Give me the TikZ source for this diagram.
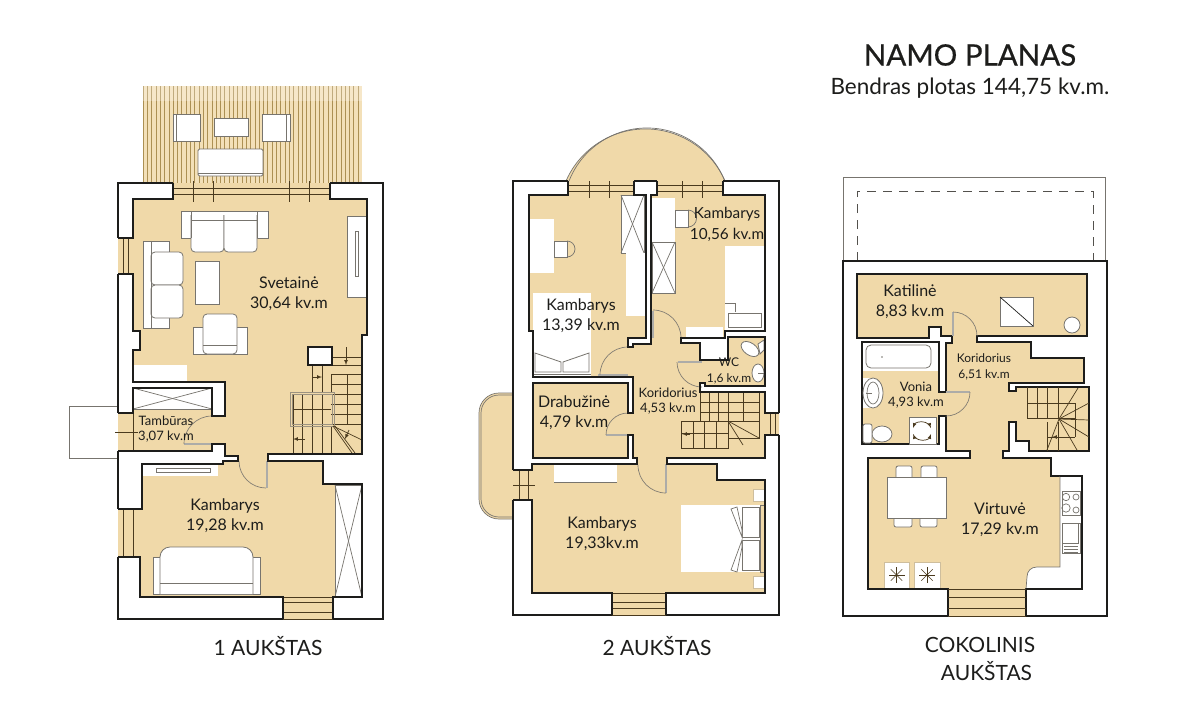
\documentclass[tikz,border=0pt]{standalone}
\usepackage{fontspec}
\setmainfont{Lato}
\newfontfamily\titlefont[FakeBold=0.6]{Lato}
\definecolor{planbeige}{HTML}{F0D9A9}
\definecolor{deckbeige}{HTML}{F3E0B8}
\definecolor{wallblack}{HTML}{1D1D1B}
\definecolor{stairbrown}{HTML}{4A3A1E}
\definecolor{deckbrown}{HTML}{AC9053}
\definecolor{furngray}{HTML}{77746E}
\tikzset{
    wall/.style={draw=wallblack, line width=1.6pt, line join=miter},
    room/.style={fill=planbeige},
    furn/.style={draw=furngray, fill=white, line width=0.8pt},
    flat/.style={fill=white, draw=planbeige!70!gray, line width=0.5pt},
    thin/.style={draw=furngray, line width=0.7pt},
    stairline/.style={draw=stairbrown, line width=0.7pt},
    pane/.style={draw=stairbrown, line width=0.8pt},
    doorarc/.style={draw=furngray!90!planbeige, line width=0.7pt},
    doorleaf/.style={draw=furngray!60!white, line width=1.6pt},
    roomlabel/.style={text=wallblack, align=center, yshift=-1.5pt, font=\fontsize{16}{20.5}\selectfont},
    midlabel/.style={text=wallblack, align=center, font=\fontsize{13}{15.5}\selectfont},
    smalllabel/.style={text=wallblack, align=center, font=\fontsize{12}{15.5}\selectfont},
    floorlabel/.style={text=wallblack, align=center, font=\fontsize{21}{28}\selectfont},
}
\newcommand{\crossbox}[2]{\draw[furn] (#1) rectangle (#2); \draw[thin] (#1) -- (#2); \draw[thin] (#1 -| #2) -- (#1 |- #2);}
\begin{document}
\begin{tikzpicture}[x=1pt, y=-1pt]
    \useasboundingbox (0,0) rectangle (1200,713);
    \fill[white] (0,0) rectangle (1200,713);

    % 1 AUKSTAS
    \fill[deckbeige] (143,86) rectangle (362,183);
    \foreach \x in {143,147.3,...,362}
        \draw[draw=deckbrown, line width=0.5pt] (\x,86) -- (\x,183);
    \fill[white, opacity=0.25] (143,86) rectangle (362,101);
    \draw[furn] (173,114) rectangle (200,141);
    \draw[thin] (176.5,114) -- (176.5,141);
    \draw[furn] (214,118) rectangle (248,136);
    \draw[furn] (262,114) rectangle (290,141);
    \draw[thin] (286.5,114) -- (286.5,141);
    \draw[furn, rounded corners=1.5pt] (198,149) rectangle (263,176);
    \draw[thin] (198,173) -- (263,173);
    \draw[thin] (69,406) rectangle (118,458);
    \fill[room] (173,183) -- (173,199) -- (133,199) -- (133,238) -- (118,238) -- (118,274) -- (133,274) -- (133,331) -- (140,331) -- (140,350) -- (133,350) -- (133,382) -- (225,382) -- (225,416) -- (212,416) -- (212,388) -- (133,388) -- (133,413) -- (118,413) -- (118,451) -- (212,451) -- (212,444) -- (225,444) -- (225,456) -- (238,456) -- (238,461) -- (223,461) -- (223,464) -- (142,464) -- (142,509) -- (118,509) -- (118,557) -- (140,557) -- (140,597) -- (283,597) -- (283,619) -- (333,619) -- (333,597) -- (362,597) -- (362,484) -- (323,484) -- (323,461) -- (268,461) -- (268,454) -- (362,454) -- (362,335) -- (367,335) -- (367,199) -- (330,199) -- (330,183) -- cycle;
    % windows
    \draw[pane] (173,188) -- (330,188);
    \draw[pane] (173,194) -- (330,194);
    \foreach \x in {193,213,289,309}
        \draw[pane] (\x,181) -- (\x,202);
    \draw[pane] (123,238) -- (123,274);
    \draw[pane] (128,238) -- (128,274);
    \draw[pane] (123.5,509) -- (123.5,557);
    \draw[pane] (133,509) -- (133,557);
    \foreach \y in {597,602,612,619}
        \draw[pane] (283,\y) -- (333,\y);
    \draw[pane] (115,432) -- (138,432);
    \draw[pane] (133,413) -- (133,451);
    % living room furniture
    \draw[furn] (181,211) rectangle (268,238);
    \draw[furn, rounded corners=4pt] (191,215) -- (191,252) -- (224,252) -- (224,215);
    \draw[furn, rounded corners=4pt] (224,215) -- (224,252) -- (257,252) -- (257,215);
    \draw[thin] (191,211) -- (191,238);
    \draw[thin] (257,211) -- (257,238);
    \draw[thin] (191,220) -- (257,220);
    \draw[furn] (143,241) rectangle (169,328);
    \draw[furn, rounded corners=4pt] (151,252) -- (183,252) -- (183,285) -- (151,285) -- cycle;
    \draw[furn, rounded corners=4pt] (151,285) -- (183,285) -- (183,318) -- (151,318) -- cycle;
    \draw[thin] (151,241) -- (151,328);
    \draw[furn] (195,261) rectangle (219,304);
    \draw[furn] (193,327) rectangle (247,354);
    \draw[furn, rounded corners=4pt] (203,354) -- (203,314) -- (237,314) -- (237,354) -- cycle;
    \draw[thin] (203,345) -- (237,345);
    \draw[furn] (347,216) rectangle (367,297);
    \draw[thin] (355,231) rectangle (358,276);
    \fill[white] (133,365) rectangle (187,382);
    \crossbox{133,388}{212,409}
    % stairs
    \draw[stairline] (312,365) -- (312,392);
    \draw[stairline] (322,365) -- (322,392);
    \draw[stairline] (332,357) -- (362,357);
    \draw[stairline] (332,365) -- (362,365);
    \draw[stairline] (346,347) -- (346,357);
    \foreach \y in {374,384,394,404,414,424}
        \draw[stairline] (331,\y) -- (362,\y);
    \draw[stairline] (347,374) -- (347,424);
    \draw[stairline] (331,374) -- (331,392);
    \foreach \x in {302,312,322}
        \draw[stairline] (\x,395) -- (\x,453);
    \draw[stairline] (293,395) -- (293,453);
    \draw[stairline] (331,426) -- (331,453);
    \draw[stairline] (293,409) -- (331,409);
    \draw[thin, draw=furngray!70!planbeige] (290,392) rectangle (334,426);
    \draw[thin, draw=furngray!70!planbeige] (292,394) rectangle (332,424);
    \draw[stairline] (333,426) -- (362,440);
    \draw[stairline] (333,426) -- (352,453);
    \draw[stairline] (335,426) -- (355,453);
    \draw[furn, draw=wallblack, line width=1.4pt] (308,347) rectangle (332,365);
    \draw[stairline, -latex] (346,358) -- (346,365);
    \draw[stairline, -latex] (312,377) -- (322,377);
    \draw[stairline, -latex] (305,439) -- (293,439);
    \draw[stairline, -latex] (349,430) -- (345,439);
    % doors and bedroom
    \draw[doorleaf] (184,444) -- (212,444);
    \draw[doorarc] (212,416) arc[start angle=270, end angle=180, radius=28];
    \draw[doorleaf] (267,461) -- (267,488);
    \draw[doorarc] (239,461) arc[start angle=180, end angle=90, radius=27];
    \fill[white] (142,464) rectangle (218,476);
    \draw[furn] (156,468) rectangle (210,472);
    \crossbox{335,485}{362,597}
    \draw[furn] (153,557) rectangle (260,594);
    \draw[furn, rounded corners=10pt] (160,594) -- (160,547) -- (253,547) -- (253,594);
    \draw[thin] (160,583) -- (253,583);
    % walls
    \draw[wall] (173,183) -- (118,183) -- (118,238);
    \draw[wall] (118,274) -- (118,413);
    \draw[wall] (118,451) -- (118,509);
    \draw[wall] (118,557) -- (118,619) -- (283,619);
    \draw[wall] (333,619) -- (383,619) -- (383,183) -- (330,183);
    \draw[wall] (173,183) -- (173,199) -- (133,199) -- (133,238) -- (118,238);
    \draw[wall] (118,274) -- (133,274) -- (133,331) -- (140,331) -- (140,350) -- (133,350) -- (133,382) -- (225,382) -- (225,416) -- (212,416) -- (212,388) -- (133,388) -- (133,413) -- (118,413);
    \draw[wall] (118,451) -- (212,451) -- (212,444) -- (225,444) -- (225,456) -- (238,456) -- (238,461) -- (223,461) -- (223,464) -- (142,464) -- (142,509) -- (118,509);
    \draw[wall] (118,557) -- (140,557) -- (140,597) -- (283,597) -- (283,619);
    \draw[wall] (333,619) -- (333,597) -- (362,597) -- (362,484) -- (323,484) -- (323,461) -- (268,461) -- (268,454) -- (362,454) -- (362,335) -- (367,335) -- (367,199) -- (330,199) -- (330,183);
    % labels
    \node[roomlabel] (svetaine) at (289,292) {Svetainė\\30,64 kv.m};
    \node[midlabel] (tamburas) at (166,429) {Tambūras\\3,07 kv.m};
    \node[roomlabel] (kambarys1) at (225,514) {Kambarys\\19,28 kv.m};
    \node[floorlabel] (floor1) at (268,646) {1 AUKŠTAS};

    % 2 AUKSTAS
    \fill[room] (513,393) -- (513,519) -- (499,519) arc[start angle=90, end angle=180, radius=20] -- (479,413) arc[start angle=180, end angle=270, radius=20] -- cycle;
    \draw[thin] (513,393) -- (499,393) arc[start angle=270, end angle=180, radius=20] -- (479,499) arc[start angle=180, end angle=90, radius=20] -- (513,519);
    \draw[thin] (513,395) -- (499,395) arc[start angle=270, end angle=180, radius=18] -- (481,499) arc[start angle=180, end angle=90, radius=18] -- (513,517);
    \fill[room] (566,181) arc[start angle=203.6, end angle=336.4, radius=86.8] -- cycle;
    \draw[thin] (566,181) arc[start angle=203.6, end angle=336.4, radius=86.8];
    \draw[thin] (569,181) arc[start angle=201.5, end angle=338.5, radius=83.7];
    \fill[room] (568,181) -- (568,195) -- (529,195) -- (529,331) -- (533,331) -- (533,377) -- (633,377) -- (633,413) -- (628,413) -- (628,383) -- (533,383) -- (533,458) -- (628,458) -- (628,435) -- (633,435) -- (633,458) -- (637,458) -- (637,464) -- (532,464) -- (532,470) -- (513,470) -- (513,500) -- (532,500) -- (532,593) -- (612,593) -- (612,615) -- (666,615) -- (666,593) -- (765,593) -- (765,480) -- (717,480) -- (717,464) -- (667,464) -- (667,458) -- (765,458) -- (765,435) -- (779,435) -- (779,413) -- (765,413) -- (765,392) -- (700,392) -- (700,383) -- (705,383) -- (705,386) -- (765,386) -- (765,337) -- (728,337) -- (728,360) -- (700,360) -- (700,343) -- (681,343) -- (681,338) -- (725,338) -- (725,331) -- (765,331) -- (765,195) -- (723,195) -- (723,181) -- (657,181) -- (657,195) -- (651,195) -- (651,344) -- (633,344) -- (633,347) -- (628,347) -- (628,338) -- (646,338) -- (646,195) -- (634,195) -- (634,181) -- cycle;
    % windows
    \foreach \a/\b in {568/634,657/723} {
        \draw[pane] (\a,185) -- (\b,185);
        \draw[pane] (\a,191) -- (\b,191);
    }
    \foreach \x in {589,609,682,702}
        \draw[pane] (\x,181) -- (\x,198);
    \draw[pane] (519,470) -- (519,500);
    \draw[pane] (528,470) -- (528,500);
    \draw[pane] (513,485) -- (535,485);
    \draw[pane] (770,413) -- (770,435);
    \draw[pane] (775,413) -- (775,435);
    \foreach \y in {593,602,608,615}
        \draw[pane] (612,\y) -- (666,\y);
    % left bedroom
    \crossbox{621,195}{644,253}
    \fill[white] (626,253) rectangle (645,316);
    \fill[white] (529,219) rectangle (554,273);
    \draw[furn] (554,241) rectangle (567,257);
    \draw[thin] (567,241) arc[start angle=-90, end angle=90, radius=8];
    \fill[white] (533,293) rectangle (591,377);
    \draw[furn] (535,353) -- (561,362) -- (561,372) -- (535,372) -- cycle;
    \draw[furn] (589,353) -- (563,362) -- (563,372) -- (589,372) -- cycle;
    \draw[thin] (533,374) -- (591,374);
    % right bedroom
    \fill[white] (652,198) rectangle (675,242);
    \crossbox{652,242}{675,293}
    \draw[furn] (675,210) rectangle (688,227);
    \draw[thin] (688,210) arc[start angle=-90, end angle=90, radius=8.5];
    \fill[white] (725,246) rectangle (764,331);
    \draw[thin] (728,313) rectangle (761,327);
    \draw[thin] (725,303) -- (735,303) -- (735,312);
    \fill[white] (686,327) rectangle (723,338);
    % wc
    \draw[furn, rotate around={-35:(750,349)}] (750,349) ellipse (10 and 6);
    \draw[furn] (758,344) -- (764,340) -- (764,350) -- (760,354) -- cycle;
    \draw[furn] (758,373) ellipse (6 and 9);
    \draw[thin] (758,373) -- (764,373);
    % stairs
    \draw[stairline] (681,421) rectangle (716,448);
    \foreach \x in {693,704}
        \draw[stairline] (\x,421) -- (\x,448);
    \draw[stairline] (681,433.5) -- (728,433.5);
    \draw[stairline] (728,421) -- (728,448) -- (681,448);
    \draw[stairline] (700,392) rectangle (728,421);
    \foreach \x in {709,718}
        \draw[stairline] (\x,392) -- (\x,421);
    \draw[stairline] (700,402) -- (728,402);
    \draw[stairline] (700,412) -- (728,412);
    \draw[stairline] (728,392) rectangle (759,438);
    \draw[stairline] (728,402) -- (759,402);
    \draw[stairline] (728,412) -- (759,412);
    \draw[stairline] (728,421) -- (759,421);
    \draw[stairline] (743,392) -- (743,421);
    \draw[stairline] (728,421) -- (759,438);
    \draw[stairline] (728,421) -- (743,445);
    \draw[stairline, -latex] (690,434) -- (682,434);
    % drabuzine and big bedroom
    \fill[white] (554,465) rectangle (617,482);
    \draw[thin] (554,482) -- (617,482);
    \fill[white] (681,505) rectangle (760,572);
    \draw[thin] (760,505) rectangle (764,572);
    \draw[furn] (742,507) rectangle (759,537);
    \draw[furn] (742,540) rectangle (759,570);
    \draw[thin, fill=white] (731,509) -- (737,507) -- (742,530) -- (742,537) -- cycle;
    \draw[thin, fill=white] (731,570) -- (737,572) -- (742,547) -- (742,540) -- cycle;
    \draw[flat] (753,489) rectangle (764,501);
    \draw[flat] (753,576) rectangle (764,588);
    % doors
    \draw[doorleaf] (653,311) -- (653,338);
    \draw[doorarc] (653,310) arc[start angle=270, end angle=360, radius=28];
    \draw[doorleaf] (598,375) -- (628,375);
    \draw[doorarc] (628,347) arc[start angle=270, end angle=180, radius=28];
    \draw[doorleaf] (606,435) -- (628,435);
    \draw[doorarc] (628,413) arc[start angle=270, end angle=180, radius=22];
    \draw[doorleaf] (678,362) -- (702,362);
    \draw[doorarc] (677,362) arc[start angle=180, end angle=90, radius=25];
    \draw[doorleaf] (666,464) -- (666,493);
    \draw[doorarc] (638,465) arc[start angle=180, end angle=90, radius=28];
    % walls
    \draw[wall] (568,181) -- (513,181) -- (513,470);
    \draw[wall] (513,500) -- (513,615) -- (612,615);
    \draw[wall] (666,615) -- (779,615) -- (779,435);
    \draw[wall] (779,413) -- (779,181) -- (723,181);
    \draw[wall] (634,181) -- (657,181);
    \draw[wall] (568,181) -- (568,195) -- (529,195) -- (529,331) -- (533,331) -- (533,377) -- (633,377) -- (633,413) -- (628,413) -- (628,383) -- (533,383) -- (533,458) -- (628,458) -- (628,435) -- (633,435) -- (633,458) -- (637,458) -- (637,464) -- (532,464) -- (532,470) -- (513,470);
    \draw[wall] (513,500) -- (532,500) -- (532,593) -- (612,593) -- (612,615);
    \draw[wall] (666,615) -- (666,593) -- (765,593) -- (765,480) -- (717,480) -- (717,464) -- (667,464) -- (667,458) -- (765,458) -- (765,435) -- (779,435);
    \draw[wall] (779,413) -- (765,413) -- (765,392) -- (700,392) -- (700,383) -- (705,383) -- (705,386) -- (765,386) -- (765,337) -- (728,337) -- (728,360) -- (700,360) -- (700,343) -- (681,343) -- (681,338) -- (725,338) -- (725,331) -- (765,331) -- (765,195) -- (723,195) -- (723,181);
    \draw[wall] (657,181) -- (657,195) -- (651,195) -- (651,344) -- (633,344) -- (633,347) -- (628,347) -- (628,338) -- (646,338) -- (646,195) -- (634,195) -- (634,181);
    % labels
    \node[roomlabel] (kambarys2a) at (581,314) {Kambarys\\13,39 kv.m};
    \node[roomlabel, font=\fontsize{15.3}{20.5}\selectfont] (kambarys2b) at (727,223) {Kambarys\\10,56 kv.m};
    \node[smalllabel] (wc) at (729,371) {WC\\1,6 kv.m};
    \node[midlabel] (koridorius2) at (668,401) {Koridorius\\4,53 kv.m};
    \node[roomlabel] (drabuzine) at (574,411) {Drabužinė\\4,79 kv.m};
    \node[roomlabel] (kambarys2c) at (602,532) {Kambarys\\19,33kv.m};
    \node[floorlabel] (floor2) at (657,646) {2 AUKŠTAS};

    % COKOLINIS AUKSTAS
    \draw[draw=furngray, line width=1pt] (843,261) -- (843,177) -- (1105,177) -- (1105,261);
    \draw[draw=furngray!70!black, line width=0.9pt, dash pattern=on 9pt off 7pt] (857,261) -- (857,191) -- (1093,191) -- (1093,261);
    \draw[wall] (843,261) rectangle (1107,616);
    \draw[wall, fill=planbeige] (857,274) -- (1087,274) -- (1087,336) -- (977,336) -- (977,342) -- (1031,342) -- (1031,358) -- (1084,358) -- (1084,383) -- (1009,383) -- (1009,391) -- (1016,391) -- (1016,387) -- (1089,387) -- (1089,451) -- (1029,451) -- (1029,441) -- (1016,441) -- (1016,422) -- (1009,422) -- (1009,451) -- (1003,451) -- (1003,458) -- (1051,458) -- (1051,476) -- (1082,476) -- (1082,589) -- (1026,589) -- (1026,616) -- (948,616) -- (948,589) -- (868,589) -- (868,458) -- (970,458) -- (970,451) -- (946,451) -- (946,416) -- (939,416) -- (939,444) -- (862,444) -- (862,342) -- (939,342) -- (939,392) -- (946,392) -- (946,343) -- (952,343) -- (952,336) -- (941,336) -- (941,327) -- (929,327) -- (929,338) -- (857,338) -- cycle;
    % boiler room
    \draw[furn] (1000,297) rectangle (1033,326);
    \draw[thin, draw=wallblack] (1000,297) -- (1033,326);
    \draw[furn] (1072,325) circle (8);
    % bathroom
    \fill[white] (863,343) rectangle (938,371);
    \draw[furn, rounded corners=5pt] (866,345) rectangle (931,368);
    \fill[furngray] (882,357) circle (0.9);
    \fill[white] (863,378) rectangle (872,408);
    \draw[furn] (873,393) ellipse (10 and 15);
    \draw[thin] (873,393) ellipse (6 and 11);
    \draw[thin] (866,393) -- (872,393);
    \draw[furn] (909,417) rectangle (936,444);
    \draw[stairline, latex-latex] (913,428) arc[start angle=200, end angle=340, radius=9.5];
    \draw[stairline, latex-latex] (931,434) arc[start angle=20, end angle=160, radius=9.5];
    \draw[furn] (882,434) ellipse (10 and 8);
    \draw[furn, rounded corners=2pt] (863,424) rectangle (872,443);
    % stairs
    \foreach \x in {1027,1037,1047,1058}
        \draw[stairline] (\x,387) -- (\x,418);
    \draw[stairline] (1027,403) -- (1075,403);
    \draw[stairline] (1027,418) -- (1075,418);
    \draw[stairline] (1075,403) -- (1075,437);
    \draw[stairline] (1047,422) -- (1047,451);
    \draw[stairline] (1058,422) -- (1058,451);
    \draw[stairline] (1047,437) -- (1075,437);
    \foreach \a/\b in {1078/388,1089/403,1089/420,1089/437,1077/450,1047/450}
        \draw[stairline] (1059,419) -- (\a,\b);
    \draw[stairline, -latex] (1063,437) -- (1052,437);
    % kitchen
    \fill[white] (1060,476) -- (1082,476) -- (1082,589) -- (1026,589) -- (1027,577) .. controls (1027,571) and (1031,567) .. (1037,567) -- (1060,567) -- cycle;
    \draw[thin] (1060,476) -- (1060,567) -- (1037,567) .. controls (1031,567) and (1027,571) .. (1027,577) -- (1026,589);
    \draw[thin] (1062,491) rectangle (1080,515);
    \foreach \x/\y/\r in {1066/497/3.7,1076/497/3,1066/508/4.2,1076/510/3}
        \draw[thin] (\x,\y) circle (\r);
    \draw[thin] (1062,523) rectangle (1080,553);
    \draw[thin] (1062,523) rectangle (1078,543);
    \foreach \y in {546,549,552}
        \draw[thin] (1064,\y) -- (1078,\y);
    \draw[furn, rounded corners=2pt] (896,477) -- (896,466) -- (912,466) -- (912,477);
    \draw[furn, rounded corners=2pt] (921,477) -- (921,466) -- (937,466) -- (937,477);
    \draw[furn, rounded corners=2pt] (894,518) -- (894,527) -- (912,527) -- (912,518);
    \draw[furn, rounded corners=2pt] (920,518) -- (920,527) -- (937,527) -- (937,518);
    \draw[furn] (887,477) rectangle (946,518);
    \foreach \x/\a/\b in {884/909/896.5,914.5/940/927}{
        \draw[flat] (\x,562) rectangle (\a,589);
        \foreach \t in {0,45,...,315}
            \draw[stairline, line width=0.6pt] (\b,575) -- ++(\t:8);
        \fill[stairbrown] (\b,575) circle (1.2);
    }
    % doors
    \draw[doorleaf] (953,312) -- (953,336);
    \draw[doorarc] (953,312) arc[start angle=270, end angle=360, radius=24];
    \draw[doorleaf] (946,392) -- (970,392);
    \draw[doorarc] (970,392) arc[start angle=0, end angle=90, radius=24];
    % walls on top of the furniture
    \draw[wall] (1060,476) -- (1082,476) -- (1082,589) -- (1026,589);
    \draw[wall] (843,616) -- (948,616);
    \draw[wall] (1026,616) -- (1107,616);
    \fill[planbeige] (948.9,615) rectangle (1025.1,617);
    \draw[wall] (868,458) -- (868,589) -- (948,589) -- (948,616);
    \draw[wall] (1026,616) -- (1026,589);
    \foreach \y in {589.5,597,608,616}
        \draw[pane] (948,\y) -- (1026,\y);
    % labels
    \node[roomlabel] (katiline) at (910,300) {Katilinė\\8,83 kv.m};
    \node[smalllabel] (koridorius3) at (984,367) {Koridorius\\6,51 kv.m};
    \node[midlabel] (vonia) at (916,395) {Vonia\\4,93 kv.m};
    \node[roomlabel] (virtuve) at (1000,518) {Virtuvė\\17,29 kv.m};
    \node[floorlabel] (floor3) at (980,659) {COKOLINIS\\\hspace*{13pt}AUKŠTAS};

    % title
    \node[text=wallblack, font=\titlefont\fontsize{29.5}{32}\selectfont] (title) at (970,55) {NAMO PLANAS};
    \node[text=wallblack, font=\fontsize{22.5}{28}\selectfont] (subtitle) at (970,88) {Bendras plotas 144,75 kv.m.};
\end{tikzpicture}
\end{document}
